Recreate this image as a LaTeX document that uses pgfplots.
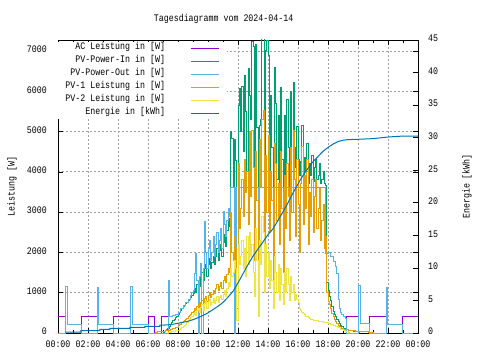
\documentclass[border=0pt]{standalone}
\usepackage{fontspec}
\setmainfont{Liberation Mono}[FakeStretch=0.83]
\usepackage{pgfplots}
\pgfplotsset{compat=1.18}
\definecolor{cAC}{HTML}{9400D3}
\definecolor{cIN}{HTML}{009E73}
\definecolor{cOUT}{HTML}{56B4E9}
\definecolor{cP1}{HTML}{E69F00}
\definecolor{cP2}{HTML}{F0E442}
\definecolor{cEN}{HTML}{0072B2}
\definecolor{cGrid}{HTML}{A0A0A0}
\newcommand{\gf}{\fontsize{10}{12}\selectfont}
\begin{document}
\begin{tikzpicture}
\begin{axis}[
  at={(0,0)}, anchor=south west,
  scale only axis, width=360pt, height=293pt,
  xmin=0, xmax=1440, ymin=0, ymax=7273,
  xtick={0,120,...,1440},
  xticklabels={00:00,02:00,04:00,06:00,08:00,10:00,12:00,14:00,16:00,18:00,20:00,22:00,00:00},
  minor x tick num=1,
  ytick={0,1000,...,7000},
  yticklabels={0,1000,2000,3000,4000,5000,6000,7000},
  scaled y ticks=false,
  /pgf/number format/assume math mode=true,
  xmajorgrids, ymajorgrids,
  major grid style={cGrid, dash pattern=on 2pt off 2pt, line width=0.8pt},
  tick align=inside,
  major tick length=5pt, minor tick length=3pt,
  every tick/.style={black, line width=0.7pt},
  axis line style={line width=0.8pt},
  xticklabel style={font=\gf, anchor=center, inner sep=0pt, yshift=-11.3pt},
  yticklabel style={font=\gf, anchor=east, inner sep=0pt, xshift=-11pt, yshift=1.5pt},
  title={Tagesdiagramm vom 2024-04-14},
  title style={at={(axis description cs:0.46,1)}, anchor=center, yshift=14.7pt, font=\gf, inner sep=0pt},
  ylabel={Leistung [W]},
  ylabel style={at={(axis description cs:-0.128,0.5)}, anchor=center, font=\gf, inner sep=0pt},
  legend style={at={(0,1)}, anchor=north west, xshift=0.4pt, yshift=-2.5pt,
    draw=none, fill=white, font=\gf, inner xsep=7pt, inner ysep=2pt, outer sep=0pt,
    row sep=5pt, column sep=25pt,
    nodes={inner sep=0pt, text height=5pt, text depth=3pt}},
  legend cell align=right,
  legend plot pos=right,
  legend image code/.code={\draw[#1, line width=1.6pt] (0pt,0pt) -- (28pt,0pt);},
  every axis plot/.append style={line width=1pt, no markers},
]
% AC Leistung
\addplot[cAC, const plot] coordinates {
(0,400)(30,1160)(39,220)(93,400)(157,1140)(164,220)(224,400)(290,1150)(297,220)(361,400)(388,0)(415,400)
(441,1314)(447,404)(455,420)(460,440)(470,470)(480,520)(490,600)(500,680)(510,750)(520,830)(530,930)(535,1000)
(540,1066)(545,1480)(550,1980)(555,1300)(560,0)(565,1400)(570,1730)(575,0)(580,1600)(585,2760)(590,2000)(595,1600)
(600,2100)(605,2300)(610,1800)(615,2000)(620,2400)(625,1900)(630,2200)(635,2500)(640,2000)(645,2300)(650,2600)(655,2100)
(660,3010)(665,2700)(670,2400)(675,2800)(680,3100)(685,2900)(690,3600)(705,0)(710,3600)(715,600)(720,3600)
(785,2700)(790,3600)(800,800)(805,3600)(825,3000)(830,3600)(860,1800)(865,3600)(885,3000)(890,3600)(900,2200)(905,3600)
(925,3100)(930,3600)(1068,1980)(1080,2000)(1090,1900)(1100,1780)(1108,1650)(1114,1480)(1120,820)(1124,620)(1128,520)
(1135,450)(1141,414)(1148,364)(1152,400)(1201,1190)(1208,240)(1245,400)(1313,1130)(1319,215)(1379,400)(1440,400)};
\addlegendentry{AC Leistung in [W]}
% PV-Power-In
\addplot[cIN, const plot] coordinates {
(420,20)(425,40)(430,60)(435,80)(440,110)(445,150)(450,200)(455,250)(460,300)(465,340)(470,380)(475,420)
(480,460)(485,520)(490,560)(495,610)(500,650)(505,690)(510,720)(515,760)(520,800)(525,840)(530,880)(535,930)
(540,990)(545,1100)(550,1000)(555,1200)(560,1300)(565,1150)(570,1400)(575,1500)(580,1300)(585,1600)(590,1700)(595,1400)
(600,1700)(605,1850)(610,1600)(615,1750)(620,1900)(625,1700)(630,1900)(635,2100)(640,1800)(645,2050)(650,2200)(655,1900)
(660,2250)(665,2450)(670,2150)(675,2550)(680,2850)(685,2650)(690,4990)(695,4830)(700,3600)(705,4800)(710,4290)(715,600)
(720,5650)(725,6070)(730,5000)(735,6110)(740,4500)(745,6400)(750,5500)(755,4000)(760,6565)(765,5900)(770,5300)(775,7230)
(780,7100)(785,2700)(790,7150)(795,5100)(800,800)(805,5160)(810,5300)(815,7300)(820,7300)(825,3000)(830,7000)(835,7250)
(840,6900)(845,3600)(850,5900)(855,4600)(860,1800)(865,6600)(870,5700)(875,3800)(880,5400)(885,3000)(890,6100)(895,4300)
(900,2200)(905,5400)(910,3600)(915,5800)(920,4600)(925,3100)(930,6000)(935,4000)(940,6230)(945,4600)(950,4100)(955,5120)
(960,4300)(965,3900)(970,4260)(975,5140)(980,3800)(985,4350)(990,4000)(995,4700)(1000,3700)(1005,4200)(1010,3900)(1015,4400)
(1020,3750)(1025,4100)(1030,4300)(1035,3800)(1040,3900)(1045,4200)(1050,3700)(1055,3800)(1060,4000)(1065,3700)(1070,3650)(1075,1250)
(1080,1066)(1085,900)(1090,818)(1095,650)(1100,528)(1105,450)(1110,404)(1115,330)(1120,280)(1125,230)(1130,198)(1135,160)
(1140,116)(1150,90)(1160,70)(1170,57)(1180,45)(1190,30)(1200,25)(1205,0)};
\addlegendentry{PV-Power-In in [W]}
% PV-Power-Out
\addplot[cOUT, const plot] coordinates {
(0,0)(30,1160)(39,220)(93,0)(157,1140)(164,220)(224,0)(290,1150)(297,220)(361,0)
(441,1314)(447,404)(455,420)(460,440)(470,470)(480,520)(490,600)(500,680)(510,750)(520,830)(530,930)(535,1000)
(540,1066)(545,1480)(550,1980)(555,1300)(560,0)(565,1400)(570,1730)(575,0)(580,1600)(585,2760)(590,2000)(595,1600)
(600,2100)(605,2300)(610,1800)(615,2000)(620,2400)(625,1900)(630,2200)(635,2500)(640,2000)(645,2300)(650,2600)(655,2100)
(660,3010)(665,2700)(670,2400)(675,2800)(680,3100)(685,2900)(690,3600)(705,0)(710,3600)(715,600)(720,3600)
(785,2700)(790,3600)(800,800)(805,3600)(825,3000)(830,3600)(860,1800)(865,3600)(885,3000)(890,3600)(900,2200)(905,3600)
(925,3100)(930,3600)(1068,1980)(1080,2000)(1090,1900)(1100,1780)(1108,1650)(1114,1480)(1120,820)(1124,620)(1128,520)
(1135,450)(1141,414)(1148,364)(1152,0)(1201,1190)(1208,240)(1245,0)(1313,1130)(1319,215)(1379,0)(1440,0)};
\addlegendentry{PV-Power-Out in [W]}
% PV-1
\addplot[cP1, const plot] coordinates {
(388,20)(400,25)(410,30)(420,40)(430,50)(440,70)(450,90)(460,110)(470,140)(480,180)(485,200)(490,220)(495,250)
(500,280)(505,310)(510,340)(515,370)(520,400)(525,430)(530,470)(535,500)(540,540)(545,600)(550,560)(555,650)
(560,700)(565,620)(570,760)(575,800)(580,720)(585,850)(590,900)(595,780)(600,920)(605,1000)(610,880)(615,950)
(620,1050)(625,980)(630,1100)(635,1200)(640,1050)(645,1150)(650,1250)(655,1100)(660,1300)(665,1400)(670,1250)(675,1450)
(680,1600)(685,1500)(690,3000)(695,2000)(700,1800)(705,2400)(710,2100)(715,300)(720,4200)(725,2600)(730,3100)(735,3800)
(740,2900)(745,4300)(750,3500)(755,4000)(760,2700)(765,5000)(770,3400)(775,5030)(780,4100)(785,1800)(790,4500)(795,3300)
(800,400)(805,4800)(810,3600)(815,5300)(820,5530)(825,2000)(830,4400)(835,3000)(840,4900)(845,2500)(850,4000)(855,3300)
(860,1200)(865,4700)(870,4200)(875,2800)(880,3700)(885,2200)(890,4500)(895,3100)(900,1500)(905,3900)(910,2600)(915,4200)
(920,3400)(925,2300)(930,4600)(935,3000)(940,5030)(945,3800)(950,2400)(955,4300)(960,3200)(965,2000)(970,3700)(975,4620)
(980,2700)(985,3900)(990,3100)(995,4300)(1000,2200)(1005,3500)(1010,2900)(1015,3800)(1020,2500)(1025,3400)(1030,3800)(1035,2600)
(1040,3100)(1045,3600)(1050,2300)(1055,2800)(1060,3200)(1065,2100)(1070,2400)(1075,1000)(1080,780)(1085,700)(1090,600)(1095,480)
(1100,400)(1105,330)(1110,280)(1115,230)(1120,190)(1125,160)(1130,130)(1135,110)(1140,95)(1150,80)(1160,70)(1170,60)
(1180,50)(1190,40)(1200,35)(1220,25)(1240,20)(1260,0)};
\addlegendentry{PV-1 Leistung in [W]}
% PV-2
\addplot[cP2, const plot] coordinates {
(440,10)(445,15)(450,20)(455,25)(460,30)(465,40)(470,50)(475,60)(480,70)(485,90)(490,110)(495,130)
(500,160)(505,190)(510,220)(515,260)(520,300)(525,340)(530,380)(535,420)(540,450)(545,500)(550,430)(555,560)
(560,600)(565,520)(570,640)(575,700)(580,560)(585,720)(590,780)(595,620)(600,776)(605,820)(610,690)(615,760)
(620,850)(625,720)(630,800)(635,900)(640,760)(645,880)(650,940)(655,820)(660,950)(665,1050)(670,900)(675,1100)
(680,1250)(685,1150)(690,1600)(695,1400)(700,1500)(705,1800)(710,1600)(715,300)(720,2200)(725,1700)(730,1900)(735,2300)
(740,1600)(745,2100)(750,1400)(755,2400)(760,1700)(765,2500)(770,1900)(775,2200)(780,1500)(785,900)(790,2600)(795,1800)
(800,400)(805,2300)(810,1700)(815,2900)(820,2500)(825,1000)(830,2200)(835,1400)(840,2000)(845,1100)(850,1800)(855,1300)
(860,600)(865,1900)(870,1500)(875,1000)(880,1700)(885,800)(890,1600)(895,1200)(900,700)(905,1500)(910,1000)(915,1600)
(920,1200)(925,800)(930,1400)(935,1000)(940,1200)(945,800)(950,950)(955,820)(960,750)(965,600)(970,560)(975,520)
(980,480)(985,450)(990,420)(995,400)(1000,380)(1005,360)(1010,340)(1015,330)(1020,320)(1030,300)(1040,290)(1050,280)
(1060,260)(1070,250)(1080,240)(1090,220)(1100,190)(1110,160)(1120,130)(1130,90)(1140,60)(1150,30)(1160,15)(1165,0)};
\addlegendentry{PV-2 Leistung in [W]}
\addlegendimage{cEN}
\addlegendentry{Energie in [kWh]}
\end{axis}
\begin{axis}[
  at={(0,0)}, anchor=south west,
  scale only axis, width=360pt, height=293pt,
  xmin=0, xmax=1440, ymin=0, ymax=45,
  axis x line=none, axis y line*=right,
  tick align=inside,
  major tick length=5pt,
  every tick/.style={black, line width=0.7pt},
  axis line style={line width=0.8pt},
  ytick={0,5,...,45},
  yticklabels={0,5,10,15,20,25,30,35,40,45},
  /pgf/number format/assume math mode=true,
  yticklabel style={font=\gf, anchor=west, inner sep=0pt, xshift=10pt, yshift=1.5pt},
  ylabel={Energie [kWh]},
  ylabel style={at={(axis description cs:1.136,0.5)}, anchor=center, font=\gf, inner sep=0pt},
]
\addplot[cEN, line width=1pt, no markers] coordinates {
(30,0.15)(92,0.15)(92,0.35)(168,0.35)(168,0.57)(208,0.57)(208,0.72)(288,0.72)(288,0.88)(348,0.88)(348,1.03)(408,1.03)(408,1.2)
(440,1.25)(460,1.35)(480,1.5)(500,1.65)(520,1.8)(540,2.05)(560,2.35)(580,2.7)(600,3.1)(620,3.6)(640,4.1)(660,4.7)(680,5.5)
(700,6.4)(720,7.7)(740,9.1)(760,10.5)(780,11.8)(800,12.9)(820,14.0)(840,15.1)(860,16.0)(880,17.3)(900,18.6)(920,20.0)
(940,21.5)(960,22.9)(980,24.2)(1000,25.3)(1020,26.3)(1040,27.1)(1060,27.9)(1080,28.5)(1100,29.0)(1120,29.4)(1140,29.6)
(1160,29.7)(1200,29.75)(1260,29.85)(1320,30.1)(1380,30.25)(1440,30.25)};
\end{axis}
\path (-58pt,-27pt) rectangle (422pt,333pt);
\end{tikzpicture}
\end{document}
